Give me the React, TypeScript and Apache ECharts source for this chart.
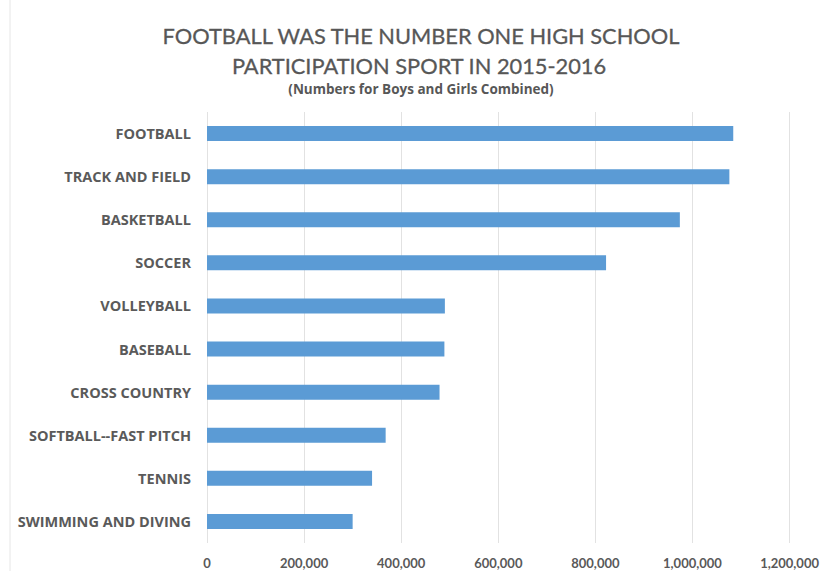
import React, { useEffect, useRef } from "react";
import * as echarts from "echarts";

const categories = [
  "FOOTBALL",
  "TRACK AND FIELD",
  "BASKETBALL",
  "SOCCER",
  "VOLLEYBALL",
  "BASEBALL",
  "CROSS COUNTRY",
  "SOFTBALL--FAST PITCH",
  "TENNIS",
  "SWIMMING AND DIVING",
];
const participants = [1084000, 1076000, 974000, 822000, 490000, 489000, 479000, 368000, 340000, 300000];
const titleLine1 = "FOOTBALL WAS THE NUMBER ONE HIGH SCHOOL";
const titleLine2 = "PARTICIPATION SPORT IN 2015-2016";
const subtitle = "(Numbers for Boys and Girls Combined)";

export default function App() {
  const ref = useRef<HTMLDivElement>(null);
  useEffect(() => {
    document.body.style.margin = "0";
    const chart = echarts.init(ref.current!, null, { renderer: "svg" });
    const font = "Lato, 'Open Sans', sans-serif";
    const labelFont = "'Open Sans', Lato, sans-serif";
    const titleStyle = (text: string, size: number, weight: string, family: string, stroke: number) => ({
      text,
      font: `${weight} ${size}px ${family}`,
      fill: "#575757",
      stroke: stroke > 0 ? "#575757" : undefined,
      lineWidth: stroke,
      align: "center",
      verticalAlign: "middle",
    });
    chart.setOption({
      animation: false,
      backgroundColor: "#ffffff",
      graphic: [
        { type: "line", shape: { x1: 10, y1: 0, x2: 10, y2: 571 }, style: { stroke: "#e6e6e6", lineWidth: 1 } },
        { type: "text", x: 421, y: 35, style: titleStyle(titleLine1, 21.8, "normal", font, 0.3) },
        { type: "text", x: 419, y: 65, style: titleStyle(titleLine2, 21.8, "normal", font, 0.3) },
        { type: "text", x: 421, y: 89, style: titleStyle(subtitle, 13.5, "bold", labelFont, 0) },
      ],
      grid: { left: 207, right: 30, top: 112, bottom: 28, containLabel: false },
      xAxis: {
        type: "value",
        min: 0,
        max: 1200000,
        interval: 200000,
        axisLine: { show: false },
        axisTick: { show: false },
        splitLine: { show: true, lineStyle: { color: "#e2e2e2", width: 1 } },
        axisLabel: {
          margin: 13,
          fontFamily: font,
          fontSize: 13,
          fontWeight: "bold",
          color: "#595959",
          formatter: (v: number) => v.toLocaleString("en-US"),
        },
      },
      yAxis: {
        type: "category",
        data: categories,
        inverse: true,
        axisLine: { show: false },
        axisTick: { show: false },
        axisLabel: { margin: 16, fontFamily: labelFont, fontSize: 14.5, fontWeight: "bold", color: "#5a5a5a" },
      },
      series: [
        {
          type: "bar",
          data: participants,
          barWidth: 15,
          itemStyle: { color: "#5B9BD5" },
        },
      ],
    });
    return () => chart.dispose();
  }, []);
  return <div ref={ref} style={{ width: 822, height: 571 }} />;
}
